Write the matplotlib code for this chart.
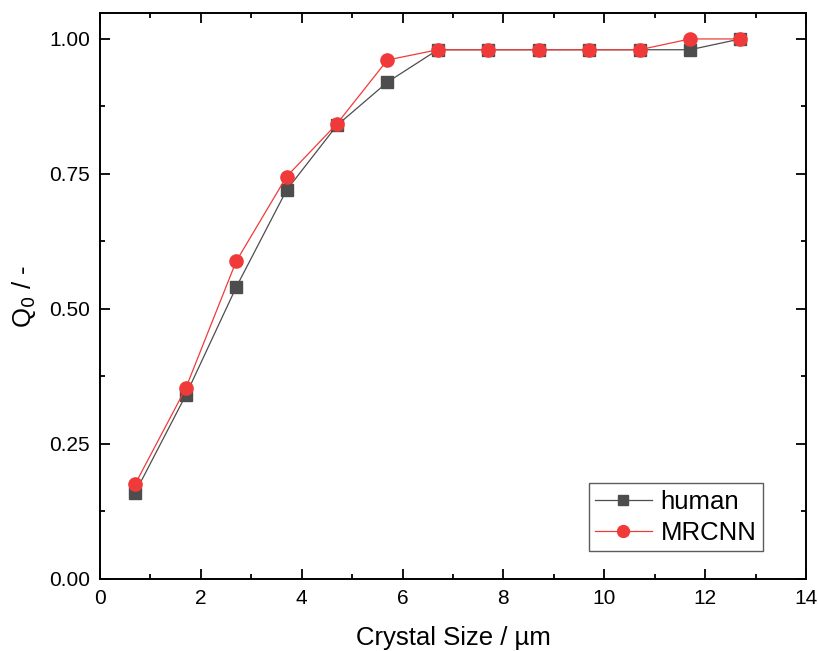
import matplotlib
matplotlib.use("Agg")
import matplotlib.pyplot as plt
from matplotlib.ticker import MultipleLocator

plt.rcParams['font.family'] = ['Liberation Sans', 'DejaVu Sans']

x = [0.7, 1.7, 2.7, 3.7, 4.7, 5.7, 6.7, 7.7, 8.7, 9.7, 10.7, 11.7, 12.7]
human = [0.16, 0.34, 0.54, 0.72, 0.84, 0.92, 0.98, 0.98, 0.98, 0.98, 0.98, 0.98, 1.00]
mrcnn = [0.176, 0.353, 0.588, 0.745, 0.843, 0.961, 0.980, 0.980, 0.980, 0.980, 0.980, 1.00, 1.00]

fig = plt.figure(figsize=(8.18, 6.51), dpi=100)
ax = fig.add_axes([0.1222, 0.1106, 0.8631, 0.8694])

ax.plot(x, human, color='#4d4d4d', lw=0.9, marker='s', ms=8.5, mec='#4d4d4d',
        mfc='#4d4d4d', label='human')
ax.plot(x, mrcnn, color='#f03a3a', lw=0.9, marker='o', ms=9.5, mec='#f03a3a',
        mfc='#f03a3a', label='MRCNN')

ax.set_xlim(0, 14)
ax.set_ylim(0, 1.048)
ax.xaxis.set_major_locator(MultipleLocator(2))
ax.xaxis.set_minor_locator(MultipleLocator(1))
ax.yaxis.set_major_locator(MultipleLocator(0.25))
ax.yaxis.set_minor_locator(MultipleLocator(0.125))
ax.yaxis.set_major_formatter(plt.FormatStrFormatter('%.2f'))

ax.tick_params(which='both', direction='in', top=True, right=True, width=1.3,
               labelsize=15, pad=7)
ax.tick_params(which='major', length=7)
ax.tick_params(which='minor', length=3.8)
for s in ax.spines.values():
    s.set_linewidth(1.4)

ax.set_xlabel('Crystal Size / µm', fontsize=18.5, labelpad=13)
ax.set_ylabel('Q$_0$ / -', fontsize=18.5, labelpad=8)

leg = ax.legend(loc='lower right', bbox_to_anchor=(0.939, 0.049), fontsize=18.5,
                frameon=True, fancybox=False, edgecolor='#333333',
                handlelength=2.2, borderpad=0.25, labelspacing=0.28,
                handletextpad=0.35, borderaxespad=0, markerscale=0.9)
leg.get_frame().set_linewidth(1.0)

fig.savefig('out.png', dpi=100)
